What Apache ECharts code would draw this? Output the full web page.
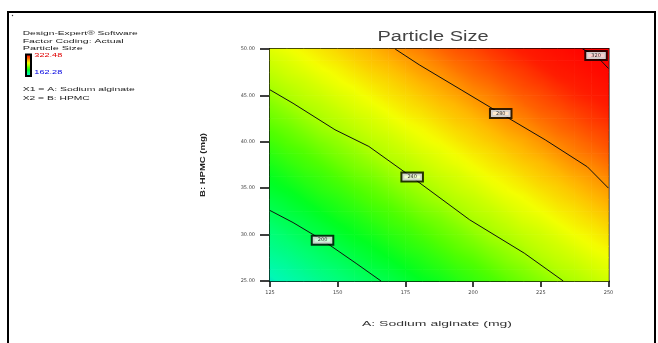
<!DOCTYPE html>
<html><head><meta charset="utf-8">
<script src="https://cdn.jsdelivr.net/npm/echarts@6/dist/echarts.min.js"></script>
<style>html,body{margin:0;padding:0;background:#fff}#c{width:658px;height:343px}</style>
</head><body><div id="c"></div>
<script>
// ---- data ----
const xTicks = [125, 150, 175, 200, 225, 250];
const yTicks = [25, 30, 35, 40, 45, 50];
const xNodes = [125,131.25,137.5,143.75,150,156.25,162.5,168.75,175,181.25,187.5,193.75,200,206.25,212.5,218.75,225,231.25,237.5,243.75,250];
const yNodes = [25,26.25,27.5,28.75,30,31.25,32.5,33.75,35,36.25,37.5,38.75,40,41.25,42.5,43.75,45,46.25,47.5,48.75,50];
// particle size estimated at each (yNode row, xNode column)
const particleSize = [
[177,181,184,188,192,195,199,202,206,210,213,217,221,224,228,232,235,239,242,246,250],
[181,184,188,192,195,199,203,206,210,214,217,221,224,228,232,235,239,243,246,250,254],
[185,188,192,196,199,203,207,210,214,217,221,225,228,232,236,239,243,247,250,254,257],
[189,192,196,199,203,207,210,214,218,221,225,229,232,236,239,243,247,250,254,258,261],
[192,196,200,203,207,211,214,218,221,225,229,232,236,240,243,247,250,254,258,261,265],
[196,200,203,207,211,214,218,222,225,229,232,236,240,243,247,251,254,258,262,265,269],
[200,204,207,211,215,218,222,225,229,233,236,240,244,247,251,255,258,262,265,269,273],
[204,207,211,215,218,222,226,229,233,237,240,244,247,251,255,258,262,266,269,273,277],
[208,211,215,219,222,226,229,233,237,240,244,248,251,255,259,262,266,269,273,277,280],
[211,215,219,222,226,230,233,237,241,244,248,251,255,259,262,266,270,273,277,280,284],
[215,219,223,226,230,234,237,241,244,248,252,255,259,263,266,270,273,277,281,284,288],
[219,223,226,230,234,237,241,245,248,252,255,259,263,266,270,274,277,281,285,288,292],
[223,227,230,234,237,241,245,248,252,256,259,263,267,270,274,277,281,285,288,292,296],
[227,230,234,238,241,245,249,252,256,259,263,267,270,274,278,281,285,289,292,296,299],
[231,234,238,242,245,249,252,256,260,263,267,271,274,278,282,285,289,292,296,300,303],
[234,238,242,245,249,253,256,260,264,267,271,274,278,282,285,289,293,296,300,303,307],
[238,242,246,249,253,256,260,264,267,271,275,278,282,285,289,293,296,300,304,307,311],
[242,246,249,253,257,260,264,267,271,275,278,282,286,289,293,297,300,304,307,311,315],
[246,250,253,257,260,264,268,271,275,279,282,286,290,293,297,300,304,308,311,315,319],
[250,253,257,261,264,268,272,275,279,282,286,290,293,297,301,304,308,312,315,319,322],
[254,257,261,264,268,272,275,279,283,286,290,294,297,301,304,308,312,315,319,323,326]
];
const sizeMin = 162.28, sizeMax = 322.48;
const contourLevels = [200, 240, 280, 320];
const contour200 = [[125,32.6],[133.5,31.3],[144.4,29.4],[156.8,26.9],[166,25]];
const contour240 = [[125,45.6],[133.5,44.15],[149,41.3],[161.5,39.5],[177.8,36.1],[198.7,31.6],[218.9,28.0],[233.3,25]];
const contour280 = [[171.2,50],[180.1,48.3],[195.6,45.6],[209.9,43.1],[226.7,40.2],[242.2,37.3],[250,35.0]];
const contour320 = [[240.4,50],[245.4,49.3],[250,47.9]];
const labelPos = [[144.4,29.4],[177.5,36.2],[210.2,43.05],[245.4,49.3]];

// ---- colour scale (low -> high) ----
const cmapColors = ['#0000ff','#00f8b8','#00ff70','#00ff20','#50ff00','#b0ff00','#f4ff00','#ffb800','#ff6400','#ff1c00','#ff0000'];
function hex2rgb(h){return [parseInt(h.substr(1,2),16),parseInt(h.substr(3,2),16),parseInt(h.substr(5,2),16)];}
const cmapRGB = cmapColors.map(hex2rgb);
function cmap(v){
  let t = (v - sizeMin) / (sizeMax - sizeMin); t = Math.max(0, Math.min(1, t));
  const n = cmapRGB.length - 1; const k = Math.min(n - 1, Math.floor(t * n)); const f = t * n - k;
  const a = cmapRGB[k], b = cmapRGB[k + 1];
  return 'rgb(' + a.map((c, q) => Math.round(c + (b[q] - c) * f)).join(',') + ')';
}

// ---- build ----
const cells = [];
for (let j = 0; j < yNodes.length - 1; j++)
  for (let i = 0; i < xNodes.length - 1; i++)
    cells.push([xNodes[i], yNodes[j], xNodes[i+1], yNodes[j+1],
      particleSize[j][i], particleSize[j][i+1], particleSize[j+1][i], particleSize[j+1][i+1]]);
const xMin = xTicks[0], xMax = xTicks[xTicks.length-1];
const yMin = yTicks[0], yMax = yTicks[yTicks.length-1];

const mctx = document.createElement('canvas').getContext('2d');
function sx(text, size, weight, w) {
  mctx.font = (weight || 'normal') + ' ' + size + "px 'Liberation Sans'";
  return w / mctx.measureText(text).width;
}
function txt(text, x, y, size, w, opts) {
  opts = opts || {};
  const align = opts.align || 'left';
  return {
    type: 'text', x: x, y: y, rotation: opts.rotation || 0,
    scaleX: sx(text, size, opts.weight, w), silent: true,
    style: { text: text, fontSize: size, fontFamily: 'Liberation Sans', fontWeight: opts.weight || 'normal',
      fill: opts.color || '#222', align: align, textAlign: align, verticalAlign: 'middle', textVerticalAlign: 'middle' }
  };
}
const barStops = cmapColors.map((c, i) => ({ offset: 1 - i / (cmapColors.length - 1), color: c })).reverse();

const chart = echarts.init(document.getElementById('c'), null, { renderer: 'canvas' });
chart.setOption({
  backgroundColor: '#fff',
  animation: false,
  grid: { left: 270, right: 49.5, top: 49, bottom: 62, show: true, borderColor: '#000', borderWidth: 2, backgroundColor: 'transparent', outerBoundsMode: 'none', containLabel: false },
  xAxis: {
    type: 'value', min: xMin, max: xMax, interval: xTicks[1] - xTicks[0],
    axisLine: { show: true, onZero: false, lineStyle: { color: '#000', width: 2 } },
    axisTick: { show: true, length: 6, lineStyle: { color: '#000', width: 1.5 } },
    splitLine: { show: false },
    axisLabel: { margin: 9, fontSize: 5, fontFamily: 'DejaVu Sans', color: '#444', formatter: v => v.toFixed(0), hideOverlap: false }
  },
  yAxis: {
    type: 'value', min: yMin, max: yMax, interval: yTicks[1] - yTicks[0],
    axisLine: { show: true, onZero: false, lineStyle: { color: '#000', width: 2 } },
    axisTick: { show: true, length: 10, lineStyle: { color: '#000', width: 1.5 } },
    splitLine: { show: false },
    axisLabel: { margin: 15, fontSize: 5, fontFamily: 'DejaVu Sans', color: '#444', formatter: v => v.toFixed(2), hideOverlap: false }
  },
  series: [
    {
      type: 'custom', data: cells, silent: true, z: 1,
      encode: { x: [0, 2], y: [1, 3] },
      renderItem: function (params, api) {
        const x0 = api.value(0), y0 = api.value(1), x1 = api.value(2), y1 = api.value(3);
        const f00 = api.value(4), f10 = api.value(5), f01 = api.value(6), f11 = api.value(7);
        const pa = api.coord([x0, y0]), pb = api.coord([x1, y1]);
        const L = pa[0], R = pb[0], B = pa[1], T = pb[1];
        const w = R - L, h = B - T;
        const gx = ((f10 - f00) + (f11 - f01)) / 2 / w;
        const gy = -((f01 - f00) + (f11 - f10)) / 2 / h;
        const fc = (f00 + f10 + f01 + f11) / 4;
        const cx = (L + R) / 2, cy = (T + B) / 2;
        const g = Math.hypot(gx, gy);
        let fill;
        if (g < 1e-6) fill = cmap(fc);
        else {
          const k = Math.hypot(w, h) / 2, ux = gx / g, uy = gy / g;
          const vs = fc - k * g, ve = fc + k * g;
          const stops = [0, 0.25, 0.5, 0.75, 1].map(t => ({ offset: t, color: cmap(vs + t * (ve - vs)) }));
          fill = new echarts.graphic.LinearGradient(cx - k * ux, cy - k * uy, cx + k * ux, cy + k * uy, stops, true);
        }
        return { type: 'rect', shape: { x: L - 0.3, y: T - 0.3, width: w + 0.6, height: h + 0.6 }, style: { fill: fill } };
      }
    },
    ...[contour200, contour240, contour280, contour320].map(d => ({
      type: 'line', data: d, symbol: 'none', silent: true, z: 3, clip: true,
      lineStyle: { color: '#111', width: 1 }
    })),
    {
      type: 'scatter', z: 5, silent: true, symbol: 'rect', symbolSize: 1, itemStyle: { color: 'rgba(0,0,0,0)' },
      data: labelPos.map((p, i) => ({ value: p, name: String(contourLevels[i]) })),
      label: { show: true, position: 'inside', formatter: p => p.name, fontSize: 5, fontFamily: 'DejaVu Sans',
        color: '#000', backgroundColor: '#fff', borderColor: '#000', borderWidth: 2, padding: [1, 5] }
    }
  ],
  graphic: [
    { type: 'rect', silent: true, shape: { x: 8, y: 12, width: 647, height: 340 }, style: { fill: 'none', stroke: '#000', lineWidth: 2 } },
    { type: 'circle', silent: true, shape: { cx: 12.5, cy: 15.5, r: 0.7 }, style: { fill: '#333' } },
    { type: 'rect', silent: true, shape: { x: 26, y: 54.5, width: 5, height: 21.5 },
      style: { fill: new echarts.graphic.LinearGradient(0, 0, 0, 1, barStops), stroke: '#000', lineWidth: 2 } },
    txt('Particle Size', 433, 37, 14, 111, { align: 'center', color: '#444' }),
    txt('A: Sodium alginate (mg)', 437, 324, 8, 150, { align: 'center', color: '#333' }),
    txt('B: HPMC (mg)', 203, 165, 7.5, 64, { align: 'center', color: '#222', weight: 'bold', rotation: Math.PI/2 }),
    txt('Design-Expert\u00ae Software', 22.7, 33, 6, 115, {}),
    txt('Factor Coding: Actual', 22.7, 41.5, 6, 101, {}),
    txt('Particle Size', 22.7, 48.3, 6, 60, {}),
    txt(sizeMax.toFixed(2), 34.3, 55.5, 6, 28, { color: '#e00000' }),
    txt(sizeMin.toFixed(2), 34.3, 72.5, 6, 28, { color: '#0000e0' }),
    txt('X1 = A: Sodium alginate', 22.7, 89.5, 6, 112, {}),
    txt('X2 = B: HPMC', 22.7, 98, 6, 67, {})
  ]
});
</script>
</body></html>
